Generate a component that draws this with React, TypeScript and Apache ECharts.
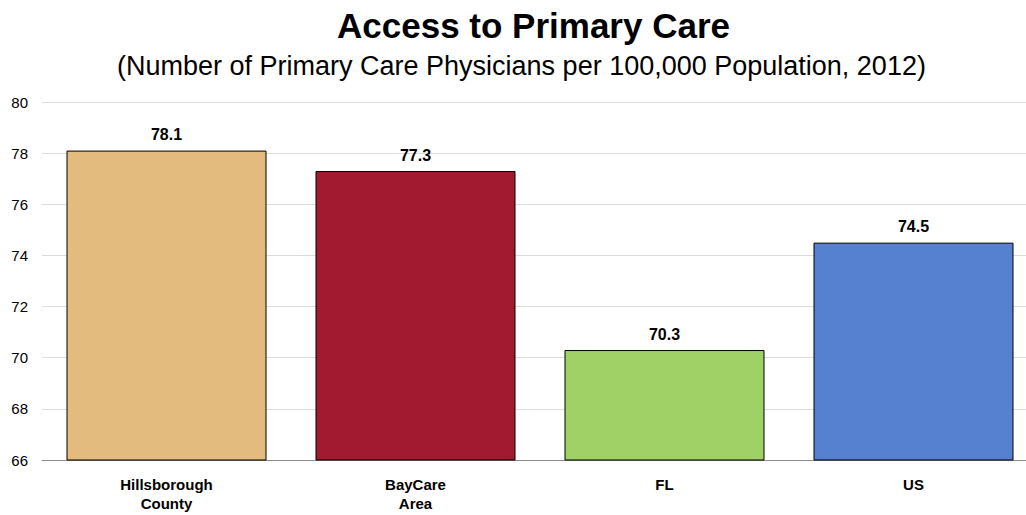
import React, { useEffect, useRef } from "react";
import * as echarts from "echarts";

const categories = ["Hillsborough\nCounty", "BayCare\nArea", "FL", "US"];
const values = [78.1, 77.3, 70.3, 74.5];
const barColors = ["#E3BB7E", "#A21A2F", "#A0D167", "#5680D0"];
const yTicks = { min: 66, max: 80, interval: 2 };

export default function App() {
  const ref = useRef<HTMLDivElement>(null);
  useEffect(() => {
    const chart = echarts.init(ref.current!, null, { renderer: "svg" });
    chart.setOption({
      animation: false,
      backgroundColor: "#ffffff",
      textStyle: { fontFamily: "Liberation Sans, Arial, sans-serif" },
      title: [
        {
          text: "Access to Primary Care",
          left: 332,
          top: 3,
          textStyle: { fontSize: 35, fontWeight: "bold", color: "#000", fontFamily: "Liberation Sans, Arial, sans-serif" },
        },
        {
          text: "(Number of Primary Care Physicians per 100,000 Population, 2012)",
          left: 112,
          top: 47,
          textStyle: { fontSize: 27, fontWeight: "normal", color: "#000", fontFamily: "Liberation Sans, Arial, sans-serif" },
        },
      ],
      grid: { left: 42, right: 2, top: 102, bottom: 55, containLabel: false },
      xAxis: {
        type: "category",
        data: categories,
        axisTick: { show: false },
        axisLine: { lineStyle: { color: "#8c8c8c", width: 1 } },
        axisLabel: {
          fontSize: 15,
          fontWeight: "bold",
          color: "#000",
          lineHeight: 19,
          margin: 15,
          fontFamily: "Liberation Sans, Arial, sans-serif",
        },
      },
      yAxis: {
        type: "value",
        min: yTicks.min,
        max: yTicks.max,
        interval: yTicks.interval,
        axisLine: { show: false },
        axisTick: { show: false },
        splitLine: { lineStyle: { color: "#dcdcdc", width: 1 } },
        axisLabel: { fontSize: 15, color: "#000", margin: 14, fontFamily: "Liberation Sans, Arial, sans-serif" },
      },
      series: [
        {
          type: "bar",
          barWidth: 200,
          data: values.map((v, i) => ({
            value: v,
            itemStyle: { color: barColors[i], borderColor: "#000", borderWidth: 1 },
          })),
          label: {
            show: true,
            position: "top",
            distance: 8,
            fontSize: 16,
            fontWeight: "bold",
            color: "#000",
            fontFamily: "Liberation Sans, Arial, sans-serif",
            formatter: (p: any) => p.value.toFixed(1),
          },
        },
      ],
    });
    return () => chart.dispose();
  }, []);
  return (
    <div
      ref={ref}
      style={{ position: "fixed", left: 0, top: 0, width: 1040, height: 515 }}
    />
  );
}
